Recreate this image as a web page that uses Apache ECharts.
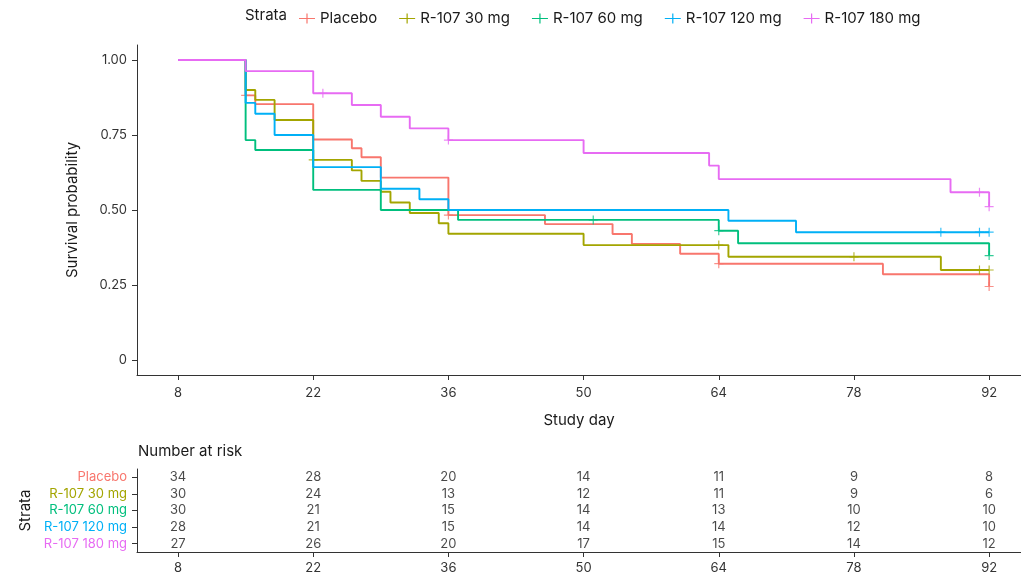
<!DOCTYPE html>
<html><head><meta charset="utf-8">
<script src="https://cdn.jsdelivr.net/npm/echarts@6/dist/echarts.min.js"></script>
<style>html,body{margin:0;padding:0;background:#fff}#c{width:1021px;height:577px}</style>
</head><body><div id="c"></div>
<script>
// ---------- data ----------
const strata = ['Placebo', 'R-107 30 mg', 'R-107 60 mg', 'R-107 120 mg', 'R-107 180 mg'];
const colors = ['#F8766D', '#A3A500', '#00BF7D', '#00B0F6', '#E76BF3'];
const xTicks = [8, 22, 36, 50, 64, 78, 92];
const yTicks = [0, 0.25, 0.5, 0.75, 1];

const placeboT = [8, 15, 16, 22, 26, 27, 29, 36, 46, 53, 55, 60, 64, 81, 92];
const placeboS = [1, 0.882, 0.853, 0.735, 0.706, 0.676, 0.608, 0.483, 0.453, 0.420, 0.387, 0.354, 0.321, 0.286, 0.245];
const placeboCens = [15, 36, 64, 92];

const mg30T = [8, 15, 16, 18, 22, 26, 27, 29, 30, 32, 35, 36, 50, 65, 87, 92];
const mg30S = [1, 0.9, 0.867, 0.8, 0.667, 0.632, 0.597, 0.561, 0.525, 0.490, 0.456, 0.421, 0.383, 0.344, 0.3, 0.3];
const mg30Cens = [22, 64, 78, 91, 92];

const mg60T = [8, 15, 16, 22, 29, 37, 64, 66, 92];
const mg60S = [1, 0.733, 0.7, 0.567, 0.5, 0.467, 0.431, 0.389, 0.348];
const mg60Cens = [51, 64, 92];

const mg120T = [8, 15, 16, 18, 22, 29, 33, 36, 65, 72, 92];
const mg120S = [1, 0.857, 0.821, 0.75, 0.643, 0.571, 0.536, 0.5, 0.464, 0.426, 0.426];
const mg120Cens = [87, 91, 92];

const mg180T = [8, 15, 22, 26, 29, 32, 36, 50, 63, 64, 88, 92];
const mg180S = [1, 0.963, 0.889, 0.85, 0.811, 0.772, 0.733, 0.69, 0.648, 0.603, 0.559, 0.511];
const mg180Cens = [23, 36, 91, 92];

const riskTimes = [8, 22, 36, 50, 64, 78, 92];
const riskPlacebo = [34, 28, 20, 14, 11, 9, 8];
const risk30 = [30, 24, 13, 12, 11, 9, 6];
const risk60 = [30, 21, 15, 14, 13, 10, 10];
const risk120 = [28, 21, 15, 14, 14, 12, 10];
const risk180 = [27, 26, 20, 17, 15, 14, 12];

// ---------- build ----------
const curves = [
  [placeboT, placeboS, placeboCens],
  [mg30T, mg30S, mg30Cens],
  [mg60T, mg60S, mg60Cens],
  [mg120T, mg120S, mg120Cens],
  [mg180T, mg180S, mg180Cens]
];
const risks = [riskPlacebo, risk30, risk60, risk120, risk180];

function survAt(T, S, t) {
  let v = S[0];
  for (let i = 0; i < T.length; i++) if (T[i] <= t) v = S[i];
  return v;
}

const FONT = 'Inter';
const plusPath = 'path://M0,4.35H10V5.65H0Z M4.35,0H5.65V10H4.35Z';
const legendIcon = 'path://M0,4.4H16V5.6H0Z M7.4,0H8.6V10H7.4Z';

const series = [];
curves.forEach((c, i) => {
  const [T, S, C] = c;
  series.push({
    name: strata[i], type: 'line', step: 'end', xAxisIndex: 0, yAxisIndex: 0,
    data: T.map((t, k) => [t, S[k]]),
    showSymbol: false, symbol: 'none', silent: true,
    lineStyle: { color: colors[i], width: 1.9 }, itemStyle: { color: colors[i] },
    z: 2 + i
  });
  series.push({
    name: strata[i], type: 'scatter', xAxisIndex: 0, yAxisIndex: 0,
    data: C.map(t => [t, survAt(T, S, t)]),
    symbol: plusPath, symbolSize: 9, symbolKeepAspect: true,
    itemStyle: { color: colors[i] }, z: 2 + i
  });
});
const tableData = [];
risks.forEach((r, i) => r.forEach((n, k) => tableData.push([riskTimes[k], strata[i], n])));
series.push({
  type: 'scatter', xAxisIndex: 1, yAxisIndex: 1, symbolSize: 0, data: tableData,
  label: { show: true, position: 'inside', formatter: p => String(p.value[2]),
           color: '#1a1a1a', fontSize: 13, fontFamily: FONT }
});

const axisLine = { show: true, onZero: false, lineStyle: { color: '#333', width: 1 } };
const axisTick = { show: true, length: 5, lineStyle: { color: '#333', width: 1 } };
const X_MIN = 3.75, X_MAX = 95.3;

const option = {
  animation: false,
  backgroundColor: '#fff',
  textStyle: { fontFamily: FONT },
  legend: {
    data: strata, left: 294, top: 6, itemWidth: 16, itemHeight: 10, itemGap: 22,
    icon: legendIcon, textStyle: { fontSize: 15, color: '#1a1a1a', fontFamily: FONT },
    selectedMode: false
  },
  graphic: [
    { type: 'text', left: 245, top: 8, style: { text: 'Strata', fontSize: 15, fill: '#1a1a1a', fontFamily: FONT } },
    { type: 'text', left: 138, top: 444, style: { text: 'Number at risk', fontSize: 15, fill: '#1a1a1a', fontFamily: FONT } }
  ],
  grid: [
    { left: 137, top: 45, width: 884, height: 330 },
    { left: 137, top: 469, width: 884, height: 83 }
  ],
  xAxis: [
    { type: 'value', gridIndex: 0, min: X_MIN, max: X_MAX,
      name: 'Study day', nameLocation: 'middle', nameGap: 38,
      nameTextStyle: { fontSize: 15, color: '#1a1a1a', fontFamily: FONT },
      axisLine, axisTick: Object.assign({ customValues: xTicks }, axisTick),
      axisLabel: { customValues: xTicks, fontSize: 13, color: '#333', margin: 12, fontFamily: FONT },
      splitLine: { show: false } },
    { type: 'value', gridIndex: 1, min: X_MIN, max: X_MAX,
      axisLine, axisTick: Object.assign({ customValues: xTicks }, axisTick),
      axisLabel: { customValues: xTicks, fontSize: 13, color: '#333', margin: 10, fontFamily: FONT },
      splitLine: { show: false } }
  ],
  yAxis: [
    { type: 'value', gridIndex: 0, min: -0.05, max: 1.05,
      name: 'Survival probability', nameLocation: 'middle', nameGap: 57, nameRotate: 90,
      nameTextStyle: { fontSize: 15, color: '#1a1a1a', fontFamily: FONT },
      axisLine, axisTick: Object.assign({ customValues: yTicks }, axisTick),
      axisLabel: { customValues: yTicks, fontSize: 13, color: '#333', margin: 10, fontFamily: FONT,
                   formatter: v => v === 0 ? '0' : v.toFixed(2) },
      splitLine: { show: false } },
    { type: 'category', gridIndex: 1, data: strata.slice().reverse(),
      name: 'Strata', nameLocation: 'middle', nameGap: 104, nameRotate: 90,
      nameTextStyle: { fontSize: 15, color: '#1a1a1a', fontFamily: FONT },
      axisLine, axisTick: Object.assign({ alignWithLabel: true, interval: 0 }, axisTick),
      axisLabel: { interval: 0, fontSize: 13, margin: 10, fontFamily: FONT,
                   color: (v) => colors[strata.indexOf(v)] },
      splitLine: { show: false } }
  ],
  series
};
const chart = echarts.init(document.getElementById('c'), null, { renderer: 'canvas' });
chart.setOption(option);
</script></body></html>
